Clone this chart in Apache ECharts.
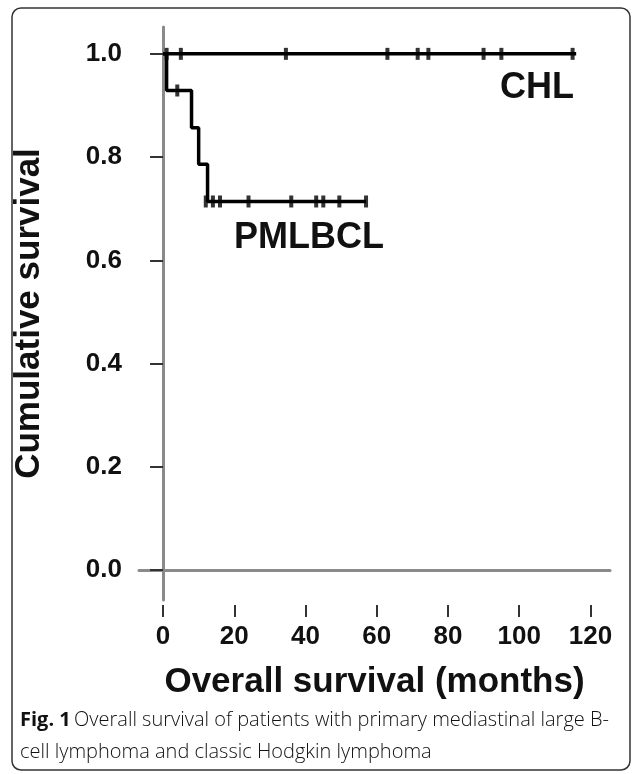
<!DOCTYPE html>
<html>
<head>
<meta charset="utf-8">
<script src="https://cdn.jsdelivr.net/npm/echarts@6/dist/echarts.min.js"></script>
<style>
  html, body { margin: 0; padding: 0; background: #fff; }
  #chart { width: 634px; height: 774px; }
</style>
</head>
<body>
<div id="chart"></div>
<script>
// Kaplan-Meier steps: [months, cumulative survival]
const chlSteps = [[0, 1.0], [116, 1.0]];
const pmlbclSteps = [[0, 1.0], [1, 0.929], [8, 0.857], [10, 0.786], [12.5, 0.714], [57, 0.714]];

// censored observations (months)
const chlCensored = [1, 5, 34.5, 63, 71.5, 74.5, 90, 95, 115];
const pmlbclCensored = [4, 12, 14, 16, 24, 36, 43, 45, 49.5, 57];
const pmlbclCensorLevel = [0.929, 0.714, 0.714, 0.714, 0.714, 0.714, 0.714, 0.714, 0.714, 0.714];

const xTicks = [0, 20, 40, 60, 80, 100, 120];
const yTicks = [0, 0.2, 0.4, 0.6, 0.8, 1.0];

const chart = echarts.init(document.getElementById("chart"));

const boldFont = "Liberation Sans, Arial, sans-serif";

chart.setOption({
  backgroundColor: "#fff",
  animation: false,
  grid: { left: 139, top: 27, width: 471, height: 573 },
  xAxis: [
    {
      type: "value",
      min: -6.75,
      max: 125.5,
      splitLine: { show: false },
      axisLine: { lineStyle: { color: "#8a8a8a", width: 3 } },
      axisTick: { show: false },
      axisLabel: { show: false },
    },
    {
      type: "value",
      position: "bottom",
      offset: 5,
      min: -6.75,
      max: 125.5,
      splitLine: { show: false },
      axisLine: { show: false },
      axisTick: {
        show: true,
        customValues: xTicks,
        length: 12,
        lineStyle: { color: "#333", width: 2 },
      },
      axisLabel: {
        customValues: xTicks,
        margin: 19,
        color: "#111",
        fontFamily: boldFont,
        fontWeight: "bold",
        fontSize: 26,
      },
      name: "Overall survival (months)",
      nameLocation: "middle",
      nameGap: 60,
      nameTextStyle: {
        color: "#111",
        fontFamily: boldFont,
        fontWeight: "bold",
        fontSize: 35,
      },
    },
  ],
  yAxis: {
    type: "value",
    min: -0.058,
    max: 1.052,
    splitLine: { show: false },
    axisLine: { show: true, lineStyle: { color: "#8a8a8a", width: 3 } },
    axisTick: {
      show: true,
      customValues: yTicks,
      length: 13,
      lineStyle: { color: "#333", width: 2 },
    },
    axisLabel: {
      customValues: yTicks,
      margin: 17,
      color: "#111",
      fontFamily: boldFont,
      fontWeight: "bold",
      fontSize: 26,
      formatter: (v) => v.toFixed(1),
    },
    name: "Cumulative survival",
    nameLocation: "middle",
    nameGap: 92,
    nameRotate: 90,
    nameTextStyle: {
      color: "#111",
      fontFamily: boldFont,
      fontWeight: "bold",
      fontSize: 35,
    },
  },
  series: [
    {
      name: "CHL",
      type: "line",
      step: "end",
      data: chlSteps,
      showSymbol: false,
      lineStyle: { color: "#000", width: 3.5 },
    },
    {
      name: "PMLBCL",
      type: "line",
      step: "end",
      data: pmlbclSteps,
      showSymbol: false,
      lineStyle: { color: "#000", width: 3.5 },
    },
    {
      type: "scatter",
      data: chlCensored.map((t) => [t, 1.0]),
      symbol: "rect",
      symbolSize: [4, 12],
      itemStyle: { color: "#000" },
    },
    {
      type: "scatter",
      data: pmlbclCensored.map((t, i) => [t, pmlbclCensorLevel[i]]),
      symbol: "rect",
      symbolSize: [4, 12],
      itemStyle: { color: "#000" },
    },
  ],
  graphic: [
    {
      type: "rect",
      shape: { x: 12, y: 8, width: 618, height: 762, r: 9 },
      style: { fill: "none", stroke: "#333", lineWidth: 1.5 },
      silent: true,
    },
    {
      type: "text",
      left: 500,
      top: 70,
      style: { text: "CHL", fill: "#111", font: "bold 36px " + boldFont },
    },
    {
      type: "text",
      left: 234,
      top: 220,
      style: { text: "PMLBCL", fill: "#111", font: "bold 36px " + boldFont },
    },
    {
      type: "text",
      left: 20,
      top: 710,
      style: {
        rich: {
          b: { fontFamily: "Open Sans", fontWeight: "bold", fontSize: 20, fill: "#111", lineHeight: 32 },
          r: { fontFamily: "Open Sans", fontWeight: 300, fontSize: 20, fill: "#111", lineHeight: 32 },
        },
        text: "{b|Fig. 1} {r|Overall survival of patients with primary mediastinal large B-}\n{r|cell lymphoma and classic Hodgkin lymphoma}",
      },
    },
  ],
});
</script>
</body>
</html>
